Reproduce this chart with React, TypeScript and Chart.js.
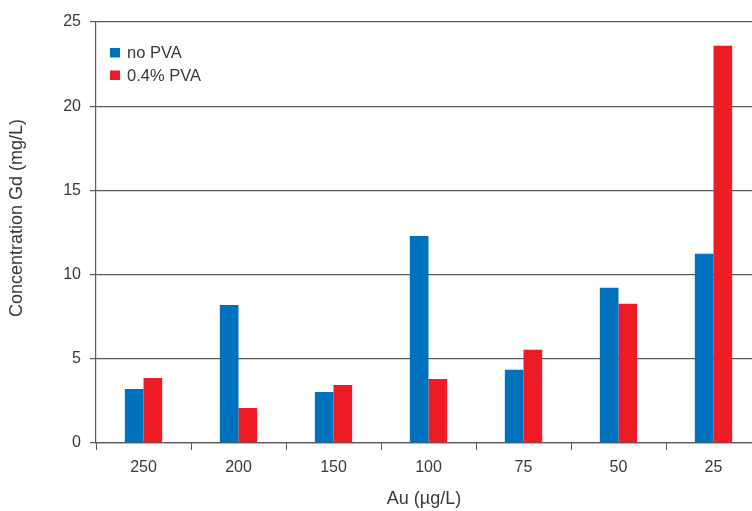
import React, { useEffect, useRef } from "react";
import { Chart, registerables } from "chart.js";

Chart.register(...registerables);

const categories = ["250", "200", "150", "100", "75", "50", "25"];
const noPva = [3.21, 8.19, 3.03, 12.29, 4.35, 9.22, 11.24];
const pva04 = [3.86, 2.08, 3.44, 3.8, 5.54, 8.27, 23.59];
const seriesLabels = ["no PVA", "0.4% PVA"];
const seriesColors = ["#0071BC", "#ED1C24"];
const yTitle = "Concentration Gd (mg/L)";
const xTitle = "Au (\u00b5g/L)";

const FONT = "'Liberation Sans', Arial, sans-serif";
const TEXT = "#3a3a3a";
const GRID = "#5a5a5a";

const overlayPlugin = {
  id: "overlay",
  afterDraw(chart: any) {
    const ctx = chart.ctx;
    ctx.save();
    // Legend
    ctx.font = `16.5px ${FONT}`;
    ctx.textBaseline = "middle";
    ctx.textAlign = "left";
    chart.data.datasets.forEach((ds: any, i: number) => {
      const y = 52.5 + i * 22.5;
      ctx.fillStyle = ds.backgroundColor;
      ctx.fillRect(110, y - 4.5, 10, 9.5);
      ctx.fillStyle = TEXT;
      ctx.fillText(ds.label, 127, y + 1);
    });
    // Y title
    ctx.font = `18px ${FONT}`;
    ctx.textAlign = "center";
    ctx.translate(17, 218);
    ctx.rotate(-Math.PI / 2);
    ctx.fillText(yTitle, 0, 0);
    ctx.restore();
    ctx.save();
    ctx.font = `18px ${FONT}`;
    ctx.fillStyle = TEXT;
    ctx.textAlign = "center";
    ctx.textBaseline = "middle";
    ctx.fillText(xTitle, 424, 499);
    ctx.restore();
  },
};

export default function App() {
  const ref = useRef<HTMLCanvasElement | null>(null);
  useEffect(() => {
    document.body.style.overflow = "hidden";
    if (!ref.current) return;
    const chart = new Chart(ref.current, {
      type: "bar",
      data: {
        labels: categories,
        datasets: [
          { label: seriesLabels[0], data: noPva, backgroundColor: seriesColors[0] },
          { label: seriesLabels[1], data: pva04, backgroundColor: seriesColors[1] },
        ],
      },
      options: {
        animation: false,
        responsive: false,
        maintainAspectRatio: false,
        layout: { padding: { top: 22, left: 0, right: 0, bottom: 0 } },
        datasets: { bar: { categoryPercentage: 0.393, barPercentage: 1 } },
        plugins: { legend: { display: false }, tooltip: { enabled: false } },
        scales: {
          x: {
            afterFit: (s: any) => { s.height = 68; },
            grid: { drawOnChartArea: false, drawTicks: true, tickLength: 7, color: GRID, offset: true },
            border: { color: GRID, width: 1.2 },
            ticks: { font: { family: FONT, size: 16 }, color: TEXT, padding: 8 },
          },
          y: {
            min: 0,
            max: 25,
            afterFit: (s: any) => { s.width = 96; },
            grid: { color: GRID, lineWidth: 1.2, tickLength: 6 },
            border: { color: GRID, width: 1.2 },
            ticks: { stepSize: 5, font: { family: FONT, size: 16 }, color: TEXT, padding: 9 },
          },
        },
      },
      plugins: [overlayPlugin],
    });
    return () => chart.destroy();
  }, []);
  return (
    <div style={{ position: "fixed", left: 0, top: 0, width: 761, height: 511 }}>
      <canvas ref={ref} width={761} height={511} style={{ display: "block" }} />
    </div>
  );
}
